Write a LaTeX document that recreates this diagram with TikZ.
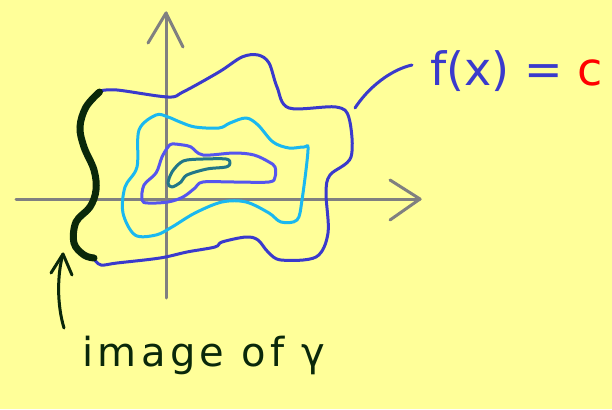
\documentclass[tikz,border=0pt]{standalone}
\usepackage{fontspec}
\setmainfont{DejaVu Sans}
\usetikzlibrary{arrows.meta}
\definecolor{bg}{RGB}{255,255,153}
\definecolor{axisgray}{RGB}{128,128,128}
\definecolor{outerblue}{RGB}{58,58,204}
\definecolor{cyanc}{RGB}{26,184,240}
\definecolor{midblue}{RGB}{85,85,238}
\definecolor{tealc}{RGB}{34,119,136}
\definecolor{dgreen}{RGB}{10,40,10}
\tikzset{
  axisline/.style={axisgray,line width=3pt,line cap=round,line join=round},
  contour/.style={line width=3pt,line join=round},
  gammaseg/.style={dgreen,line width=7pt,line cap=round},
  labeltext/.style={inner sep=0pt,anchor=base west},
}
\begin{document}
\begin{tikzpicture}[x=1pt,y=-1pt]
\fill[bg] (0,0) rectangle (612,409);
\useasboundingbox (0,0) rectangle (612,409);
% axes
\coordinate (xl) at (16,199);
\coordinate (xr) at (420,199);
\coordinate (yb) at (166,298);
\coordinate (yt) at (166,13);
\draw[axisline] (xl) -- (xr);
\draw[axisline] (390,180) -- (xr) -- (390,220);
\draw[axisline] (yb) -- (yt);
\draw[axisline] (148,43) -- (yt) -- (183,47);
% outer contour
\draw[contour,outerblue] plot[smooth,tension=0.55] coordinates {
 (94,259) (101,265) (117,263) (160,258) (187,252) (215,247) (222,242) (246,237) (258,240) (268,252) (281,260) (316,257) (328,233) (326,193) (330,175) (351,157) (349,118) (336,107) (289,108) (277,87) (269,63) (258,55) (242,57) (219,72) (183,92) (168,97) (117,90) (99.5,91)};
% cyan contour
\draw[contour,cyanc] plot[smooth cycle,tension=0.55] coordinates {
 (156,115) (139,130) (137,167) (125,187) (123,213) (135,235) (156,235) (172,227) (195,213) (222,202) (246,202) (269,213) (281,222) (297,220) (302,200) (308,150) (304,147) (289,148) (273,142) (258,125) (246,118) (230,123) (219,128) (195,127) (180,122) (168,117)};
% mid contour
\draw[contour,midblue] plot[smooth cycle,tension=0.55] coordinates {
 (168,147) (162,157) (156,173) (144,185) (142,200) (148,203) (168,202) (183,197) (195,188) (203,182) (234,182) (269,182) (275,177) (275,167) (269,162) (254,155) (234,153) (203,155) (191,147) (183,145) (172,144)};
% inner contour
\draw[contour,tealc] plot[smooth cycle,tension=0.55] coordinates {
 (180,163) (172,172) (168,183) (172,187) (181,182) (187,175) (207,169) (226,167) (230,163) (226,159) (203,159) (187,160)};
% image of gamma (thick)
\draw[gammaseg] plot[smooth,tension=0.6] coordinates {
 (99.5,92) (86,107) (80,127) (84,147) (94,170) (96,190) (90,207) (76,222) (74,243) (84,255) (94,258)};
% labels
\node[labeltext,text=outerblue,font=\fontsize{46}{46}\selectfont] (flab) at (430,86) {f(x) = \textcolor{red}{c}};
\node[labeltext,text=dgreen,font=\fontsize{40}{40}\selectfont\addfontfeatures{LetterSpace=11}] (glab) at (82,366) {image of γ};
% connector from label to outer contour
\coordinate (fend) at (355,108);
\coordinate (fstart) at (412,65);
\draw[outerblue,line width=3pt,line cap=round] (fstart) .. controls (390,70) and (368,88) .. (fend);
% arrow from image label
\coordinate (gtip) at (63,254);
\coordinate (gtail) at (64,328);
\draw[dgreen,line width=3pt,line cap=round] (gtail) .. controls (57,305) and (57,275) .. (gtip);
\draw[dgreen,line width=3pt,line cap=round,line join=round] (51,273) -- (gtip) -- (72,275);
\end{tikzpicture}
\end{document}
